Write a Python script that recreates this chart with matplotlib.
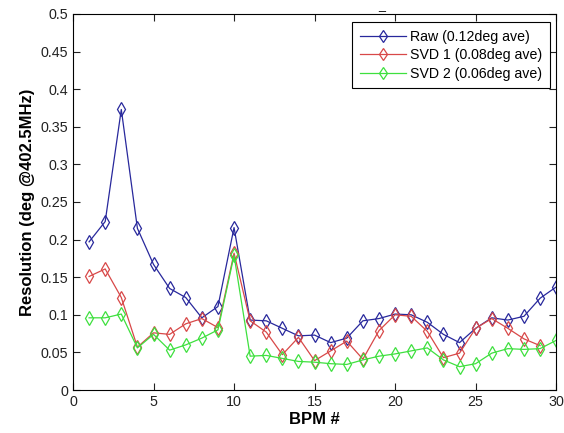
import numpy as np
import matplotlib
matplotlib.use('Agg')
import matplotlib.pyplot as plt

# BPM index
bpm = list(range(1, 31))

raw = [0.197, 0.224, 0.373, 0.215, 0.167, 0.135, 0.123, 0.096, 0.111, 0.216,
       0.093, 0.092, 0.082, 0.072, 0.073, 0.063, 0.069, 0.092, 0.095, 0.101,
       0.100, 0.090, 0.074, 0.063, 0.082, 0.096, 0.093, 0.098, 0.122, 0.137]

svd1 = [0.151, 0.161, 0.123, 0.057, 0.076, 0.074, 0.088, 0.095, 0.083, 0.182,
        0.092, 0.077, 0.047, 0.070, 0.039, 0.052, 0.065, 0.041, 0.079, 0.100,
        0.098, 0.078, 0.043, 0.049, 0.082, 0.095, 0.082, 0.068, 0.059]

svd2 = [0.096, 0.096, 0.101, 0.056, 0.074, 0.053, 0.060, 0.069, 0.080, 0.179,
        0.045, 0.046, 0.042, 0.038, 0.037, 0.035, 0.034, 0.040, 0.045, 0.048,
        0.052, 0.056, 0.040, 0.031, 0.035, 0.049, 0.055, 0.054, 0.055, 0.066]

labels = ['Raw (0.12deg ave)', 'SVD 1 (0.08deg ave)', 'SVD 2 (0.06deg ave)']
colors = ['#28289c', '#d84848', '#3ee03e']

plt.rcParams['font.family'] = ['Liberation Sans', 'DejaVu Sans']

fig = plt.figure(figsize=(5.64, 4.33), dpi=100)
ax = fig.add_axes([0.1294, 0.0993, 0.8567, 0.8684])

series = [raw, svd1, svd2]
for ys, lab, c in zip(series, labels, colors):
    ax.plot(bpm[:len(ys)], ys, color=c, lw=0.9, marker='d', ms=7.5,
            mfc='none', mec=c, mew=0.9, label=lab)

ax.set_xlim(0, 30)
ax.set_ylim(0, 0.5)
ax.set_xticks(np.arange(0, 31, 5))
ax.set_yticks(np.arange(0, 0.51, 0.05))
ax.set_yticklabels(['0', '0.05', '0.1', '0.15', '0.2', '0.25', '0.3',
                    '0.35', '0.4', '0.45', '0.5'])
ax.tick_params(direction='in', top=True, right=True, length=5,
               labelsize=10.3, colors='#222222')
for s in ax.spines.values():
    s.set_linewidth(0.8)

ax.set_xlabel('BPM #', fontsize=12, fontweight='bold', labelpad=2)
ax.set_ylabel('Resolution (deg @402.5MHz)', fontsize=12, fontweight='bold', labelpad=4)

leg = ax.legend(loc='upper right', bbox_to_anchor=(0.987, 0.978),
                fontsize=10.2, frameon=True, fancybox=False, framealpha=1,
                edgecolor='black', borderaxespad=0, handlelength=3.3,
                borderpad=0.55, labelspacing=0.3, handletextpad=0.25,
                markerscale=0.85)
leg.get_frame().set_linewidth(0.8)

fig.text(0.676, 0.985, '_', fontsize=9, ha='center', va='center')

fig.savefig('out.png', dpi=100)
